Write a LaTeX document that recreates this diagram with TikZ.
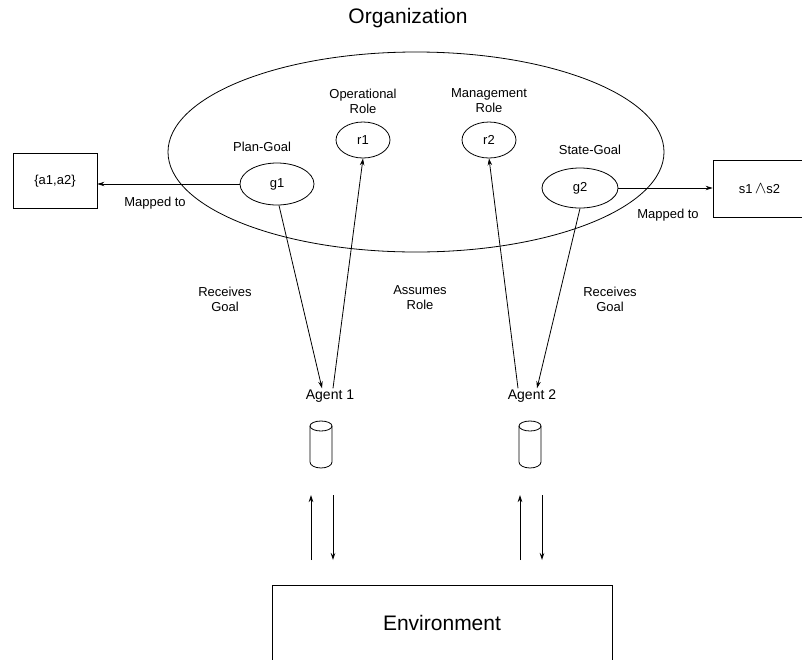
\documentclass[tikz,border=0pt]{standalone}
\usepackage{fontspec}
\setmainfont{Liberation Sans}
\usetikzlibrary{shapes.geometric,arrows.meta}
\begin{document}
\begin{tikzpicture}[x=1pt,y=-1pt,line width=0.8pt,
  every node/.style={font=\fontsize{13}{15}\selectfont},
  oval/.style={ellipse,draw,inner sep=0pt},
  box/.style={rectangle,draw,inner sep=0pt},
  lbl/.style={align=center,inner sep=1pt},
  arr/.style={-{Stealth[length=7pt,width=4.5pt]}}]
\useasboundingbox (0,0) rectangle (802,659);
% organization
\node[lbl,font=\fontsize{21}{24}\selectfont] (orgt) at (408,18) {Organization};
\node[oval,minimum width=496,minimum height=200] (org) at (416,152) {};
\node[lbl] (oprole) at (363,101) {Operational\\Role};
\node[lbl] (mgrole) at (489,101) {Management\\Role};
\node[oval,minimum width=54,minimum height=36] (r1) at (363,140) {r1};
\node[oval,minimum width=54,minimum height=36] (r2) at (489,140) {r2};
\node[lbl] (pg) at (262,147) {Plan-Goal};
\node[lbl] (sg) at (590,150) {State-Goal};
\node[oval,minimum width=74,minimum height=42] (g1) at (277,184) {g1};
\node[oval,minimum width=76,minimum height=40] (g2) at (580,188) {g2};
% mapped boxes
\node[box,minimum width=84,minimum height=55] (a) at (55,181) {\{a1,a2\}};
\node[box,minimum width=93,minimum height=57] (s) at (759.5,188.5) {s1\,\raisebox{0.3pt}{\scalebox{1.45}{$\wedge$}}s2\hspace{16pt}};
\node[lbl] (m1) at (155,203) {Mapped to};
\node[lbl] (m2) at (668,215) {Mapped to};
\draw[arr] (g1.west) -- (g1.west -| a.east);
\draw[arr] (g2.east) -- (g2.east -| s.west);
% edge labels
\node[lbl] (rg1) at (225,299) {Receives\\Goal};
\node[lbl] (ar) at (420,298) {Assumes\\Role};
\node[lbl] (rg2) at (610,299) {Receives\\Goal};
% agents
\node[lbl,font=\fontsize{14}{16}\selectfont] (ag1) at (330,396) {Agent 1};
\node[lbl,font=\fontsize{14}{16}\selectfont] (ag2) at (532,396) {Agent 2};
\draw[arr] ([xshift=2pt]g1.south) -- ([xshift=-8pt]ag1.north);
\draw[arr] ([xshift=3pt]ag1.north) -- (r1.south);
\draw[arr] ([xshift=-14pt]ag2.north) -- (r2.south);
\draw[arr] (g2.south) -- ([xshift=5pt]ag2.north);
% cylinders
\foreach \cx in {321,530}{
  \draw (\cx,426) ellipse [x radius=11, y radius=5];
  \draw (\cx-11,426) -- (\cx-11,462) arc[start angle=180,end angle=0,x radius=11,y radius=6] -- (\cx+11,426);
}
% environment
\node[box,minimum width=340,minimum height=76,font=\fontsize{21}{24}\selectfont] (env) at (442,623) {Environment};
\coordinate (u1a) at (311,560); \coordinate (u1b) at (311,495);
\coordinate (d1a) at (333,495); \coordinate (d1b) at (333,560);
\coordinate (u2a) at (520,560); \coordinate (u2b) at (520,495);
\coordinate (d2a) at (542,495); \coordinate (d2b) at (542,560);
\draw[arr] (u1a) -- (u1b);
\draw[arr] (d1a) -- (d1b);
\draw[arr] (u2a) -- (u2b);
\draw[arr] (d2a) -- (d2b);
\end{tikzpicture}
\end{document}
